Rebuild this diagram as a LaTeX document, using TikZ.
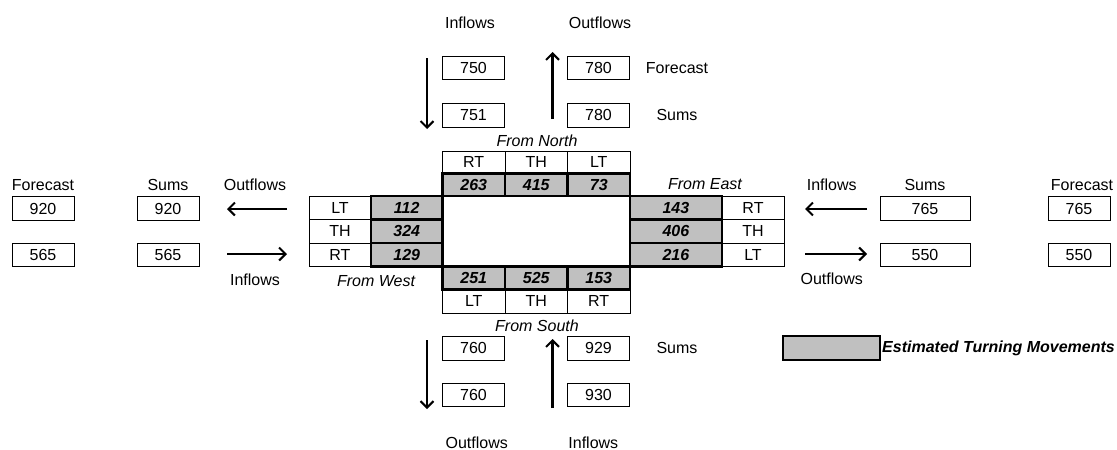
\documentclass[tikz,border=0pt]{standalone}
\usepackage{fontspec}
\setmainfont{Liberation Sans}
\usetikzlibrary{arrows.meta}
\definecolor{cellgray}{RGB}{192,192,192}

\begin{document}
\begin{tikzpicture}[>={Straight Barb[length=6.5pt, width=13pt]}, x=1pt, y=-1pt, font=\fontsize{16}{19}\selectfont,
  valbox/.style={draw, line width=0.9pt, minimum width=62, minimum height=23.5, inner sep=0},
  lblcell/.style={draw, line width=0.9pt, inner sep=0},
  estcell/.style={draw, fill=cellgray, line width=2.4pt, inner sep=0, font=\fontsize{16}{19}\selectfont\bfseries\itshape},
  flow/.style={->, line width=2.1pt},
  dirlbl/.style={font=\fontsize{16}{19}\selectfont\itshape}]
  \useasboundingbox (0,0) rectangle (1117,450);

  \foreach \lab [count=\i] in {RT,TH,LT}
    \node[lblcell, minimum width=62.5, minimum height=22.5] (nLbl\i) at ({411.25+62.5*\i},162.25) {\lab};
  \foreach \lab [count=\i] in {LT,TH,RT}
    \node[lblcell, minimum width=62.5, minimum height=23.5] (sLbl\i) at ({411.25+62.5*\i},301.25) {\lab};
  \foreach \lab [count=\i] in {LT,TH,RT}
    \node[lblcell, minimum width=62, minimum height=23.5] (wLbl\i) at (340,{184.25+23.5*\i}) {\lab};
  \foreach \lab [count=\i] in {RT,TH,LT}
    \node[lblcell, minimum width=62.6, minimum height=23.5] (eLbl\i) at (753,{184.25+23.5*\i}) {\lab};

  \foreach \val [count=\i] in {263,415,73}
    \node[estcell, minimum width=62.5, minimum height=22.5] (nEst\i) at ({411.25+62.5*\i},184.75) {\val};
  \foreach \val [count=\i] in {251,525,153}
    \node[estcell, minimum width=62.5, minimum height=23] (sEst\i) at ({411.25+62.5*\i},278) {\val};
  \foreach \val [count=\i] in {112,324,129}
    \node[estcell, minimum width=71.5, minimum height=23.5] (wEst\i) at (406.75,{184.25+23.5*\i}) {\val};
  \foreach \val [count=\i] in {143,406,216}
    \node[estcell, minimum width=91.7, minimum height=23.5] (eEst\i) at (675.85,{184.25+23.5*\i}) {\val};

  \node[dirlbl] (fromN) at (537,141) {From North};
  \node[dirlbl] (fromS) at (537,326) {From South};
  \node[dirlbl] (fromW) at (376,281) {From West};
  \node[dirlbl] (fromE) at (705,184) {From East};

  \node[valbox] (nFc) at (473.5,68) {750};
  \node[valbox] (nSum) at (473.5,115.3) {751};
  \node[valbox] (nOutFc) at (598.5,68) {780};
  \node[valbox] (nOutSum) at (598.5,115.3) {780};
  \node (nInTxt) at (470,23) {Inflows};
  \node (nOutTxt) at (600,23) {Outflows};
  \node (nFcTxt) at (677,68) {Forecast};
  \node (nSumTxt) at (677,115.3) {Sums};

  \node[valbox] (sOutSum) at (473.5,348.3) {760};
  \node[valbox] (sOutFc) at (473.5,395) {760};
  \node[valbox] (sInSum) at (598.5,348.3) {929};
  \node[valbox] (sInFc) at (598.5,395) {930};
  \node (sSumTxt) at (677,348.3) {Sums};
  \node (sOutTxt) at (476.7,443) {Outflows};
  \node (sInTxt) at (593.3,443) {Inflows};

  \node[valbox] (wOutFc) at (43,208.5) {920};
  \node[valbox] (wInFc) at (43,255) {565};
  \node[valbox] (wOutSum) at (168,208.5) {920};
  \node[valbox] (wInSum) at (168,255) {565};
  \node (wFcTxt) at (43,185) {Forecast};
  \node (wSumTxt) at (168,185) {Sums};
  \node (wOutTxt) at (255,185) {Outflows};
  \node (wInTxt) at (255,280) {Inflows};

  \node[valbox, minimum width=90] (eInSum) at (925,208.5) {765};
  \node[valbox, minimum width=90] (eOutSum) at (925,255) {550};
  \node[valbox] (eInFc) at (1079,208.5) {765};
  \node[valbox] (eOutFc) at (1079,255) {550};
  \node (eInTxt) at (831.7,185) {Inflows};
  \node (eSumTxt) at (925,185) {Sums};
  \node (eFcTxt) at (1082,185) {Forecast};
  \node (eOutTxt) at (831.7,279) {Outflows};

  \node[estcell, minimum width=97, minimum height=24] (legBox) at (831.3,348) {};
  \node[anchor=west, inner sep=0, font=\fontsize{16}{19}\selectfont\bfseries\itshape] (legTxt) at (882,348) {Estimated Turning Movements};

  \coordinate (nInA) at (427,58);
  \coordinate (nInB) at (427,129);
  \coordinate (nOutA) at (552.5,119);
  \coordinate (nOutB) at (552.5,52);
  \coordinate (sOutA) at (427,340);
  \coordinate (sOutB) at (427,409);
  \coordinate (sInA) at (552.5,408);
  \coordinate (sInB) at (552.5,339);
  \coordinate (wOutA) at (287,209);
  \coordinate (wOutB) at (227,209);
  \coordinate (wInA) at (227,254);
  \coordinate (wInB) at (287,254);
  \coordinate (eInA) at (867,209);
  \coordinate (eInB) at (805,209);
  \coordinate (eOutA) at (805,254);
  \coordinate (eOutB) at (867,254);
  \foreach \a/\b in {nInA/nInB,nOutA/nOutB,sOutA/sOutB,sInA/sInB,wOutA/wOutB,wInA/wInB,eInA/eInB,eOutA/eOutB}
    \draw[flow] (\a) -- (\b);
\end{tikzpicture}
\end{document}
